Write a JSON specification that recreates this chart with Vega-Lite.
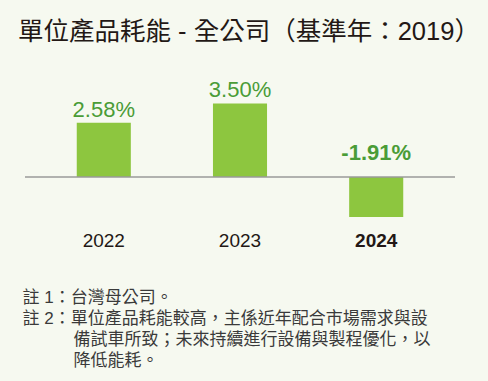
{
  "$schema": "https://vega.github.io/schema/vega-lite/v6.json",
  "width": 430,
  "height": 162,
  "autosize": {"type": "none"},
  "padding": {"left": 25, "top": 60, "right": 33, "bottom": 159},
  "background": "#f6f9f0",
  "title": {
    "text": "單位產品耗能 - 全公司（基準年：2019）",
    "anchor": "start",
    "frame": "group",
    "dx": -7,
    "offset": 15,
    "fontSize": 25.5,
    "font": "Liberation Sans, Noto Sans CJK TC",
    "fontWeight": "normal",
    "color": "#231815"
  },
  "config": {"view": {"stroke": null}},
  "data": {
    "values": [
      {"year": "2022", "value": 0.0258, "label": "2.58%"},
      {"year": "2023", "value": 0.035, "label": "3.50%"},
      {"year": "2024", "value": -0.0191, "label": "-1.91%"}
    ]
  },
  "layer": [
    {
      "mark": {"type": "bar", "color": "#8dc63f"},
      "encoding": {
        "x": {
          "field": "year",
          "type": "ordinal",
          "scale": {"paddingInner": 0.603, "paddingOuter": 0.38},
          "axis": {
            "title": [
              "註 1：台灣母公司。",
              "註 2：單位產品耗能較高，主係近年配合市場需求與設",
              "\u200b　　　備試車所致；未來持續進行設備與製程優化，以",
              "\u200b　　　降低能耗。"
            ],
            "domain": false,
            "ticks": false,
            "labelAngle": 0,
            "labelFontSize": 19,
            "labelFont": "Liberation Sans",
            "labelColor": "#231815",
            "labelPadding": 9,
            "labelFontWeight": {"condition": {"test": "datum.value === '2024'", "value": "bold"}, "value": "normal"},
            "titleFontSize": 17,
            "titleFont": "Liberation Sans, Noto Sans CJK TC",
            "titleFontWeight": "normal",
            "titleColor": "#3a3a3a",
            "titleAnchor": "start",
            "titleAlign": "left",
            "titleX": -3,
            "titleY": 67,
            "titleBaseline": "top",
            "titleLineHeight": 21
          }
        },
        "y": {
          "field": "value",
          "type": "quantitative",
          "scale": {"domain": [-0.02143, 0.05571], "nice": false, "zero": true},
          "axis": null
        }
      }
    },
    {
      "data": {"values": [{}]},
      "mark": {"type": "rule", "color": "#9a9a9a", "strokeWidth": 1.6},
      "encoding": {"y": {"datum": 0}}
    },
    {
      "transform": [{"filter": "datum.value > 0"}],
      "mark": {"type": "text", "fontSize": 22, "font": "Liberation Sans", "color": "#4a9c37", "baseline": "alphabetic", "dy": -6},
      "encoding": {
        "x": {"field": "year", "type": "ordinal"},
        "y": {"field": "value", "type": "quantitative"},
        "text": {"field": "label"}
      }
    },
    {
      "transform": [{"filter": "datum.value < 0"}],
      "mark": {"type": "text", "fontSize": 22, "font": "Liberation Sans", "fontWeight": "bold", "color": "#4a9c37", "baseline": "alphabetic", "dy": -17},
      "encoding": {
        "x": {"field": "year", "type": "ordinal"},
        "y": {"datum": 0},
        "text": {"field": "label"}
      }
    }
  ]
}
